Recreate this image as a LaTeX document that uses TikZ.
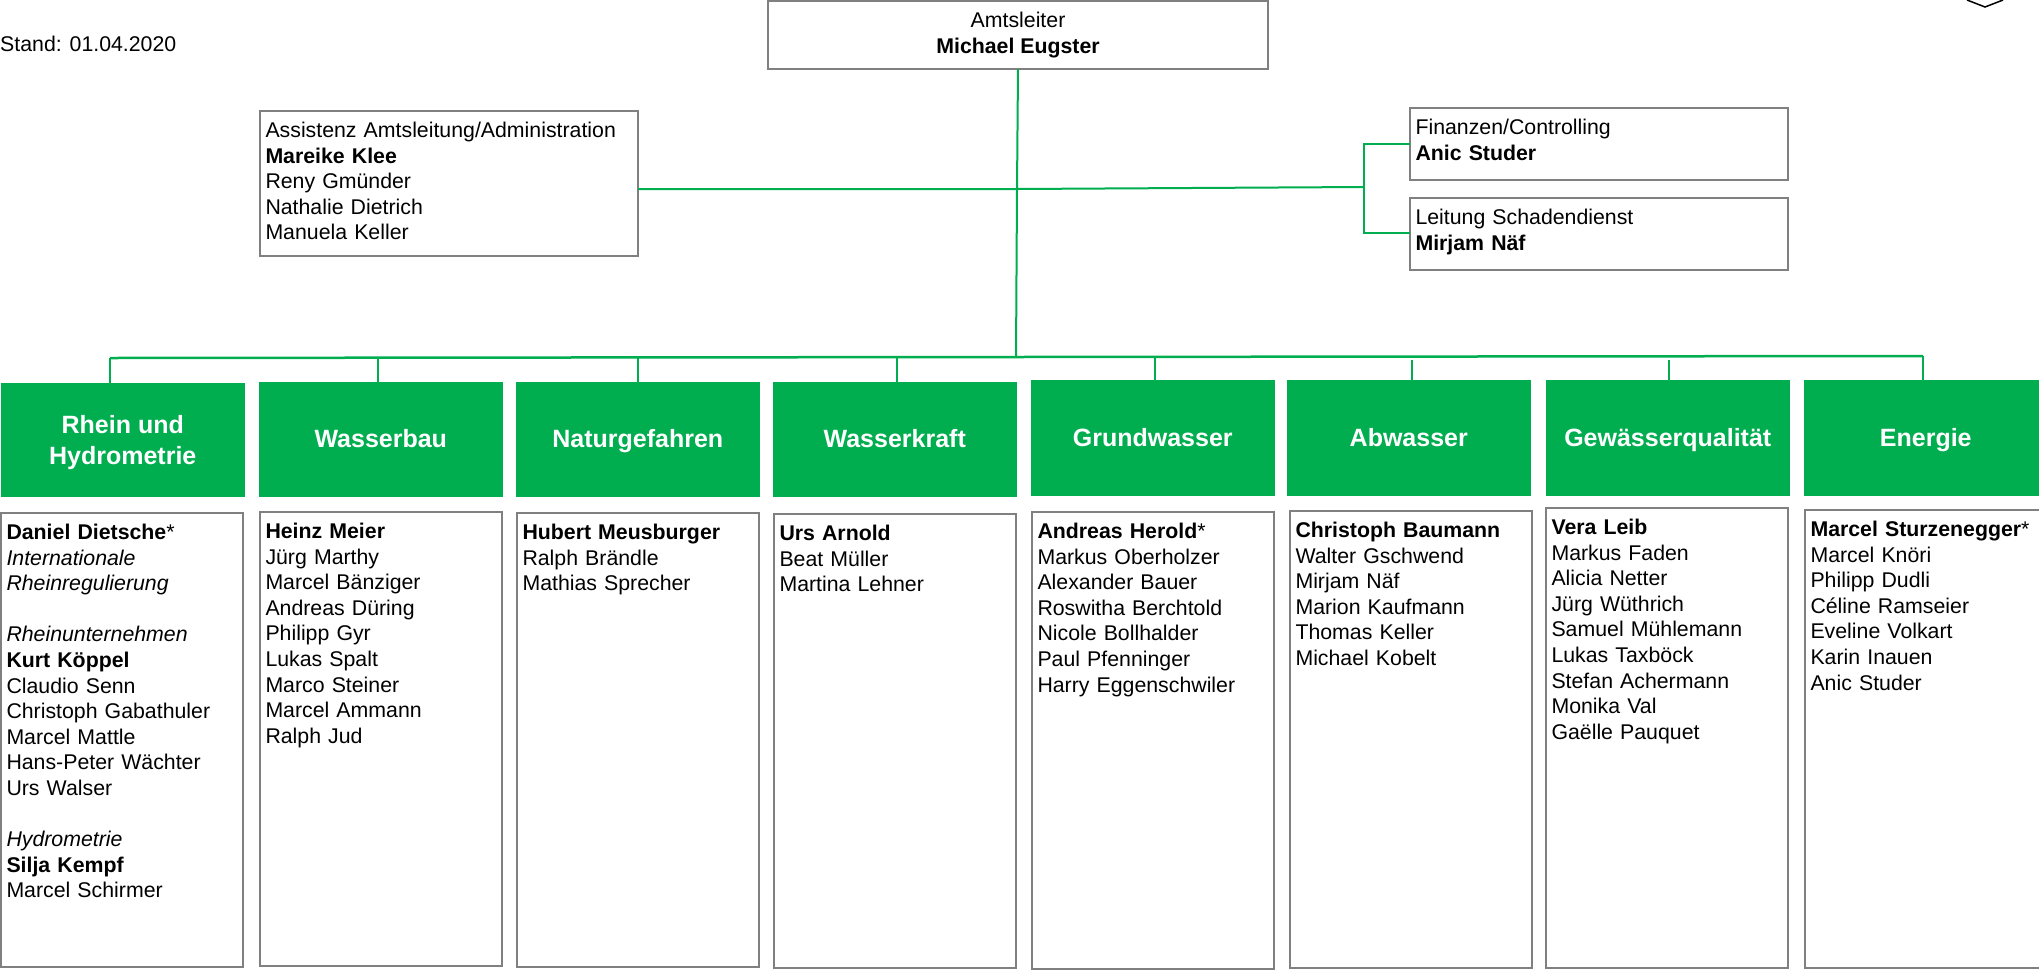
\documentclass[tikz,border=0pt]{standalone}
\usepackage{fontspec}
\setmainfont{Liberation Sans}
\usetikzlibrary{positioning}

\definecolor{amtgreen}{HTML}{00AE50}
\definecolor{boxgray}{HTML}{808080}

\begin{document}
\begin{tikzpicture}[x=1pt,y=-1pt,font=\fontsize{21.3}{25.6}\selectfont]
	\tikzset{
		topbox/.style={draw=boxgray,line width=1.5pt,anchor=north west,inner xsep=5.5pt,inner ysep=0pt,outer sep=0pt,
			text width=367pt,align=left,text height=26.5pt},
		listbox/.style={draw=boxgray,line width=1.5pt,anchor=north west,inner xsep=5.5pt,inner ysep=0pt,outer sep=0pt,
			text width=231pt,align=left,text height=26.5pt},
		deptbox/.style={fill=amtgreen,anchor=north west,minimum width=243.5pt,minimum height=115pt,inner sep=0pt,
			outer sep=0pt,text=white,align=center,text height=18pt,text depth=3pt,font=\fontsize{25}{30.5}\selectfont\bfseries},
		tallbox/.style={deptbox,minimum height=116pt,text height=20pt},
		link/.style={draw=amtgreen,line width=2pt},
		drop/.style={draw=amtgreen,line width=1.5pt}
	}
	\useasboundingbox (0,0) rectangle (2039,970);

	%% Head and staff
	\node[anchor=west,inner sep=0pt] (stand) at (0,44) {Stand: 01.04.2020};
	\node[draw=boxgray,line width=1.5pt,anchor=north west,minimum width=500pt,minimum height=68pt,inner sep=0pt,outer sep=0pt,align=center] (chief) at (768,1) {Amtsleiter\\\textbf{Michael Eugster}};
	\node[topbox,text depth=118.5pt] (assist) at (260,111) {Assistenz Amtsleitung/Administration\\\textbf{Mareike Klee}\\Reny Gmünder\\Nathalie Dietrich\\Manuela Keller};
	\node[topbox,text depth=45.5pt] (finance) at (1410,108) {Finanzen/Controlling\\\textbf{Anic Studer}};
	\node[topbox,text depth=45.5pt] (damage) at (1410,198) {Leitung Schadendienst\\\textbf{Mirjam Näf}};

	%% Departments
	\node[deptbox,minimum height=114pt,text height=51pt] (rhein) at (1,383) {Rhein und\\Hydrometrie};
	\node[deptbox] (bau) at (259,382) {Wasserbau};
	\node[deptbox] (gefahr) at (516,382) {Naturgefahren};
	\node[deptbox] (kraft) at (773,382) {Wasserkraft};
	\node[tallbox] (grund) at (1031,380) {Grundwasser};
	\node[tallbox] (abw) at (1287,380) {Abwasser};
	\node[tallbox] (qual) at (1546,380) {Gewässerqualität};
	\node[tallbox] (energie) at (1804,380) {Energie};

	%% Staff lists
	\node[listbox,text depth=427.5pt] (rheinlist) at (1,513) {\textbf{Daniel Dietsche}*\\\textit{Internationale}\\\textit{Rheinregulierung}\\[25.6pt]\textit{Rheinunternehmen}\\\textbf{Kurt Köppel}\\Claudio Senn\\Christoph Gabathuler\\Marcel Mattle\\Hans-Peter Wächter\\Urs Walser\\[25.6pt]\textit{Hydrometrie}\\\textbf{Silja Kempf}\\Marcel Schirmer};
	\node[listbox,text depth=427.5pt] (baulist) at (260,512) {\textbf{Heinz Meier}\\Jürg Marthy\\Marcel Bänziger\\Andreas Düring\\Philipp Gyr\\Lukas Spalt\\Marco Steiner\\Marcel Ammann\\Ralph Jud};
	\node[listbox,text depth=427.5pt] (gefahrlist) at (517,513) {\textbf{Hubert Meusburger}\\Ralph Brändle\\Mathias Sprecher};
	\node[listbox,text depth=427.5pt] (kraftlist) at (774,514) {\textbf{Urs Arnold}\\Beat Müller\\Martina Lehner};
	\node[listbox,text depth=430.5pt] (grundlist) at (1032,512) {\textbf{Andreas Herold}*\\Markus Oberholzer\\Alexander Bauer\\Roswitha Berchtold\\Nicole Bollhalder\\Paul Pfenninger\\Harry Eggenschwiler};
	\node[listbox,text depth=430.5pt] (abwlist) at (1290,511) {\textbf{Christoph Baumann}\\Walter Gschwend\\Mirjam Näf\\Marion Kaufmann\\Thomas Keller\\Michael Kobelt};
	\node[listbox,text depth=433.5pt] (quallist) at (1546,508) {\textbf{Vera Leib}\\Markus Faden\\Alicia Netter\\Jürg Wüthrich\\Samuel Mühlemann\\Lukas Taxböck\\Stefan Achermann\\Monika Val\\Gaëlle Pauquet};
	\node[listbox,text depth=431.5pt] (energielist) at (1805,510) {\textbf{Marcel Sturzenegger}*\\Marcel Knöri\\Philipp Dudli\\Céline Ramseier\\Eveline Volkart\\Karin Inauen\\Anic Studer};

	%% Connectors
	\coordinate (trunktop) at (1018,69);
	\coordinate (trunkmid) at (1017,189);
	\coordinate (busmid) at (1016,357);
	\coordinate (busleft) at (110,358);
	\coordinate (busright) at (1923,356);
	\coordinate (fork) at (1364,187);
	\coordinate (forktop) at (1364,144);
	\coordinate (forkbot) at (1364,233);
	\coordinate (dropb) at (378,358);
	\coordinate (dropc) at (638,358);
	\coordinate (dropd) at (897,358);
	\coordinate (drope) at (1155,358);
	\coordinate (dropf) at (1412,360);
	\coordinate (dropg) at (1669,360);

	\draw[link] (trunktop) -- (trunkmid) -- (busmid);
	\draw[link] (assist.east |- trunkmid) -- (trunkmid) -- (fork);
	\draw[link] (finance.west |- forktop) -- (forktop) -- (forkbot) -- (damage.west |- forkbot);
	\draw[link,line width=2.5pt] (busleft) -- (busmid) -- (busright);
	\draw[drop] (busleft) -- (rhein.north -| busleft);
	\draw[drop] (dropb) -- (bau.north -| dropb);
	\draw[drop] (dropc) -- (gefahr.north -| dropc);
	\draw[drop] (dropd) -- (kraft.north -| dropd);
	\draw[drop] (drope) -- (grund.north -| drope);
	\draw[drop] (dropf) -- (abw.north -| dropf);
	\draw[drop] (dropg) -- (qual.north -| dropg);
	\draw[drop] (busright) -- (energie.north -| busright);

	%% Cut-off mark at the top edge
	\coordinate (markleft) at (1967,0);
	\coordinate (marktip) at (1985,7);
	\coordinate (markright) at (2003,0);
	\draw[line width=1.5pt] (markleft) -- (marktip) -- (markright);
\end{tikzpicture}
\end{document}
